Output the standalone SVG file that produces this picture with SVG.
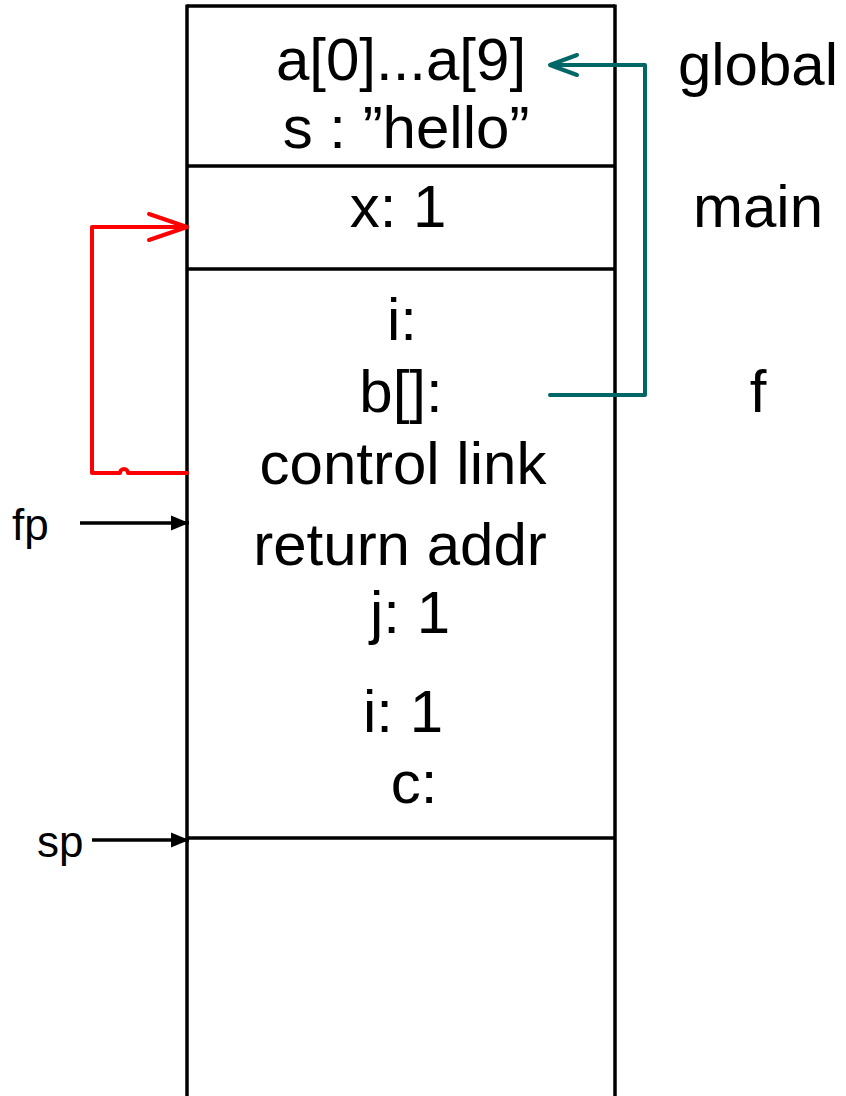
<svg xmlns="http://www.w3.org/2000/svg" width="846" height="1096" viewBox="0 0 846 1096">
<style>
  .t{font-family:"Liberation Sans",Arial,sans-serif;font-size:60px;fill:#000;text-anchor:middle}
  .s{font-family:"Liberation Sans",Arial,sans-serif;font-size:44px;fill:#000}
  .ln{stroke:#000;stroke-width:3.5;fill:none}
  .red{stroke:#ff0000;stroke-width:4;fill:none;stroke-linecap:round;stroke-linejoin:round}
  .teal{stroke:#006666;stroke-width:4;fill:none;stroke-linecap:round;stroke-linejoin:round}
  .blk{stroke:#000;stroke-width:3.5;fill:none}
</style>
<defs>
  <marker id="tri" viewBox="0 0 18 18" refX="18" refY="9" markerWidth="18" markerHeight="18" markerUnits="userSpaceOnUse" orient="auto">
    <path d="M0,1.5 L18,9 L0,16.5 Z" fill="#000"/>
  </marker>
</defs>
<rect width="846" height="1096" fill="#fff"/>
<g id="stack">
  <line class="ln" x1="187" y1="6" x2="615" y2="6"/>
  <line class="ln" x1="187" y1="4.5" x2="187" y2="1096"/>
  <line class="ln" x1="615" y1="4.5" x2="615" y2="1096"/>
</g>
<g id="frame-global">
  <line class="ln" x1="187" y1="166" x2="615" y2="166"/>
  <text class="t" x="401" y="80">a[0]...a[9]</text>
  <text class="t" x="406" y="148">s : ”hello”</text>
  <text class="t" x="758" y="85">global</text>
</g>
<g id="frame-main">
  <line class="ln" x1="187" y1="269" x2="615" y2="269"/>
  <text class="t" x="398" y="227">x: 1</text>
  <text class="t" x="758" y="227">main</text>
</g>
<g id="frame-f">
  <line class="ln" x1="187" y1="838" x2="615" y2="838"/>
  <text class="t" x="402" y="340">i:</text>
  <text class="t" x="401" y="412">b[]:</text>
  <text class="t" x="403" y="484">control link</text>
  <text class="t" x="400" y="565">return addr</text>
  <text class="t" x="410" y="633">j: 1</text>
  <text class="t" x="403" y="732">i: 1</text>
  <text class="t" x="414" y="803">c:</text>
  <text class="t" x="758" y="412">f</text>
</g>
<g id="label-fp">
  <text class="s" x="12" y="540">fp</text>
</g>
<g id="label-sp">
  <text class="s" x="37" y="857">sp</text>
</g>
<g id="connectors">
  <path class="red" d="M187,473 H128 A4,4 0 0 0 120,473 H92 V227 H186"/>
  <path class="red" d="M149,214 L187,227 L149,240"/>
  <path class="teal" d="M550,395 H645 V65 H551"/>
  <path class="teal" d="M577,55 L550,65 L577,75"/>
  <line class="blk" x1="80" y1="523" x2="189" y2="523" marker-end="url(#tri)"/>
  <line class="blk" x1="92" y1="840" x2="189" y2="840" marker-end="url(#tri)"/>
</g>
</svg>
